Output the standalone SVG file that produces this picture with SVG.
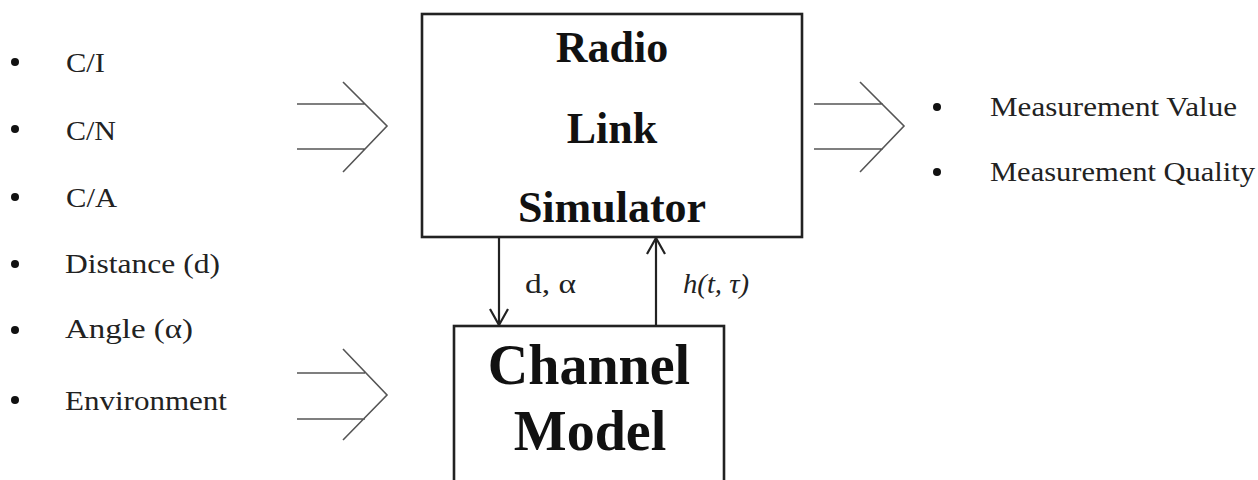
<svg xmlns="http://www.w3.org/2000/svg" width="1258" height="480" viewBox="0 0 1258 480">
<defs>
<style>
.box{fill:#fff;stroke:#222;stroke-width:2.6}
.big{font-family:"Liberation Serif","Times New Roman",serif;font-weight:bold;fill:#111;text-anchor:middle}
.lbl{font-family:"Liberation Serif","Times New Roman",serif;font-size:28px;fill:#222}
.dbl{fill:none;stroke:#555;stroke-width:1.6}
.conn{fill:none;stroke:#222;stroke-width:2.2}
.blt{fill:#111}
</style>
<marker id="ah" viewBox="0 0 20 20" refX="18" refY="10" markerWidth="20" markerHeight="20" markerUnits="userSpaceOnUse" orient="auto">
<path d="M2,1 L18,10 L2,19" fill="none" stroke="#222" stroke-width="2.2"/>
</marker>
</defs>
<rect width="1258" height="480" fill="#fff"/>

<g id="inputs">
<circle class="blt" cx="15" cy="62" r="4"/>
<text class="lbl" x="66" y="72" textLength="39" lengthAdjust="spacingAndGlyphs">C/I</text>
<circle class="blt" cx="15" cy="129" r="4"/>
<text class="lbl" x="66" y="140" textLength="50" lengthAdjust="spacingAndGlyphs">C/N</text>
<circle class="blt" cx="15" cy="197" r="4"/>
<text class="lbl" x="66" y="207" textLength="51" lengthAdjust="spacingAndGlyphs">C/A</text>
<circle class="blt" cx="15" cy="264" r="4"/>
<text class="lbl" x="65" y="273" textLength="155" lengthAdjust="spacingAndGlyphs">Distance (d)</text>
<circle class="blt" cx="15" cy="330" r="4"/>
<text class="lbl" x="65" y="338" textLength="128" lengthAdjust="spacingAndGlyphs">Angle (α)</text>
<circle class="blt" cx="15" cy="400" r="4"/>
<text class="lbl" x="65" y="410" textLength="162" lengthAdjust="spacingAndGlyphs">Environment</text>
</g>

<g id="outputs">
<circle class="blt" cx="937" cy="107" r="4"/>
<text class="lbl" x="990" y="116" font-size="27" textLength="247" lengthAdjust="spacingAndGlyphs">Measurement Value</text>
<circle class="blt" cx="937" cy="172" r="4"/>
<text class="lbl" x="990" y="181" font-size="27" textLength="265" lengthAdjust="spacingAndGlyphs">Measurement Quality</text>
</g>

<g id="radio-link-simulator">
<rect class="box" x="422" y="14" width="380" height="223"/>
<text class="big" x="612" y="62" font-size="44">Radio</text>
<text class="big" x="612" y="143" font-size="44">Link</text>
<text class="big" x="612" y="222" font-size="44">Simulator</text>
</g>

<g id="channel-model">
<rect class="box" x="454" y="326" width="270" height="170"/>
<text class="big" x="589" y="384" font-size="56">Channel</text>
<text class="big" x="590" y="450" font-size="56">Model</text>
</g>

<g id="connectors">
<path class="dbl" d="M297,104 H365 M297,149 H365 M343,82 L387,126 L343,172"/>
<path class="dbl" d="M297,373 H365 M297,419 H365 M343,349 L387,395 L343,440"/>
<path class="dbl" d="M814,104 H883 M814,149 H883 M860,82 L904,126 L860,172"/>
<line class="conn" x1="499" y1="237" x2="499" y2="325" marker-end="url(#ah)"/>
<line class="conn" x1="656" y1="326" x2="656" y2="238" marker-end="url(#ah)"/>
<text class="lbl" x="525" y="293" font-size="26" textLength="51" lengthAdjust="spacingAndGlyphs">d, α</text>
<text class="lbl" x="683" y="293" font-size="26" font-style="italic" textLength="66" lengthAdjust="spacingAndGlyphs">h(t, τ)</text>
</g>
</svg>
